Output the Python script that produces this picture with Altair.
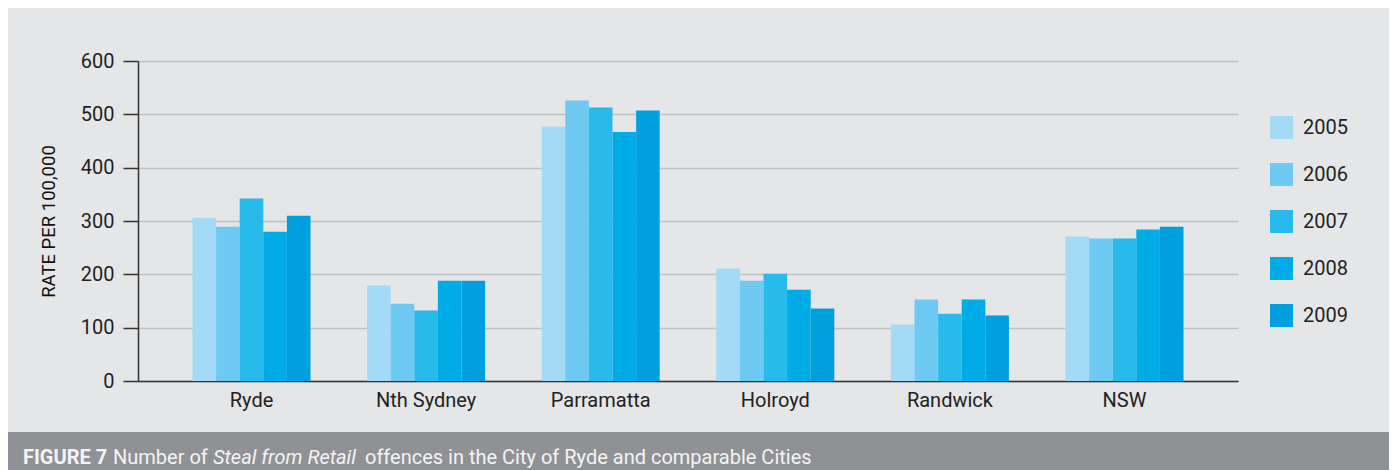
import altair as alt
import pandas as pd

categories = ["Ryde", "Nth Sydney", "Parramatta", "Holroyd", "Randwick", "NSW"]
years = ["2005", "2006", "2007", "2008", "2009"]
rate_2005 = [306, 179, 477, 211, 106, 271]
rate_2006 = [289, 145, 526, 188, 153, 267]
rate_2007 = [342, 132, 513, 201, 126, 267]
rate_2008 = [280, 188, 467, 171, 153, 284]
rate_2009 = [310, 188, 507, 136, 123, 289]
colors = ["#a3daf5", "#6ecaf2", "#29baec", "#00ace6", "#009fde"]
y_ticks = [0, 100, 200, 300, 400, 500, 600]

caption_bold = "FIGURE 7"
caption_a = "Number of"
caption_italic = "Steal from Retail"
caption_b = "offences in the City of Ryde and comparable Cities"

rows = []
for yr, vals in zip(years, [rate_2005, rate_2006, rate_2007, rate_2008, rate_2009]):
    for c, v in zip(categories, vals):
        rows.append({"city": c, "year": yr, "rate": v})
df = pd.DataFrame(rows)

W, H = 1100, 320
FONT = "Roboto"
FS = 20

bars = alt.Chart(df).mark_bar(opacity=1).encode(
    x=alt.X(
        "city:N",
        sort=categories,
        scale=alt.Scale(paddingInner=0.324, paddingOuter=0.312),
        axis=alt.Axis(
            title=None, labelAngle=0, ticks=False, labelPadding=9,
            labelFontSize=FS, domainColor="#333333", domainWidth=1.5,
            grid=False,
        ),
    ),
    xOffset=alt.XOffset("year:N", sort=years,
                        scale=alt.Scale(paddingInner=0, paddingOuter=0)),
    y=alt.Y(
        "rate:Q",
        scale=alt.Scale(domain=[0, 600], nice=False),
        axis=alt.Axis(
            values=y_ticks, title="RATE PER 100,000", tickSize=15,
            labelPadding=9, labelFontSize=FS, grid=True,
            gridColor="#bfc0c2", gridWidth=1.3, domainColor="#333333",
            domainWidth=1.5, tickColor="#333333", tickWidth=1.5,
            titleFontSize=18.5, titleFontWeight="normal", titlePadding=22,
            titleColor="#111111",
        ),
    ),
    color=alt.Color(
        "year:N",
        sort=years,
        scale=alt.Scale(domain=years, range=colors),
        legend=alt.Legend(
            title=None, orient="none", legendX=1132, legendY=55,
            symbolType="square", symbolSize=529, symbolStrokeWidth=0,
            symbolOpacity=1, labelFontSize=FS, labelOffset=10,
            rowPadding=24, labelColor="#222222", padding=0,
        ),
    ),
)

one = pd.DataFrame({"a": [0]})

cap_bg = alt.Chart(one).mark_rect(color="#909194").encode(
    x=alt.value(-140), x2=alt.value(1251), y=alt.value(371), y2=alt.value(420)
)

def cap_text(txt, xpos, **kw):
    return alt.Chart(one).mark_text(
        text=txt, align="left", baseline="alphabetic", font=FONT,
        fontSize=FS, color="#f4f4f4", **kw
    ).encode(x=alt.value(xpos), y=alt.value(403))

t1 = cap_text(caption_bold, -115, fontWeight="bold")
t2 = cap_text(caption_a, -25)
t3 = cap_text(caption_italic, 75, fontStyle="italic")
t4 = cap_text(caption_b, 227)

chart = alt.layer(bars, cap_bg, t1, t2, t3, t4).properties(
    width=W, height=H,
    padding={"left": 130, "top": 53, "right": 151, "bottom": 92},
    autosize=alt.AutoSizeParams(type="none"),
).configure(
    background="#e5e6e8",
).configure_view(stroke=None).configure_axis(
    labelFont=FONT, titleFont=FONT, labelColor="#222222"
).configure_legend(labelFont=FONT)

chart.save("out.html", embed_options={"renderer": "svg", "actions": False})
